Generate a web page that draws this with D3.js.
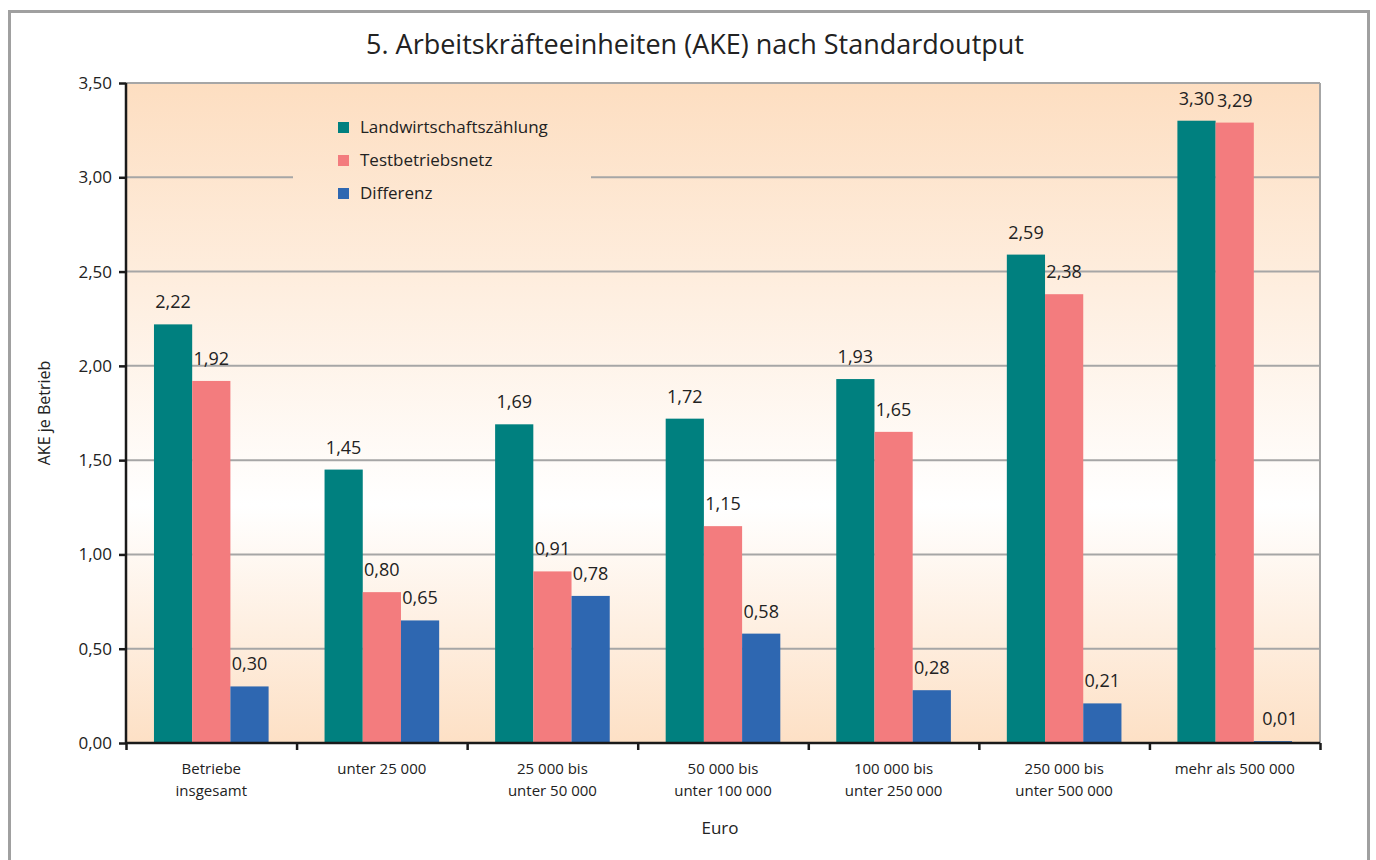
<!DOCTYPE html>
<html>
<head>
<meta charset="utf-8">
<script src="https://cdn.jsdelivr.net/npm/d3@7"></script>
<style>
  body { margin: 0; background: #fff; }
  text { font-family: "Open Sans", "Noto Sans", sans-serif; fill: #222; }
</style>
</head>
<body>
<script>
// Data
var categories = [
    ["Betriebe", "insgesamt"],
    ["unter 25 000"],
    ["25 000 bis", "unter 50 000"],
    ["50 000 bis", "unter 100 000"],
    ["100 000 bis", "unter 250 000"],
    ["250 000 bis", "unter 500 000"],
    ["mehr als 500 000"]
];
var seriesNames = ["Landwirtschaftszählung", "Testbetriebsnetz", "Differenz"];
var seriesColors = ["#00807f", "#f37c7e", "#2e67b1"];
var landwirtschaft = [2.22, 1.45, 1.69, 1.72, 1.93, 2.59, 3.30];
var testbetrieb = [1.92, 0.80, 0.91, 1.15, 1.65, 2.38, 3.29];
var differenz = [0.30, 0.65, 0.78, 0.58, 0.28, 0.21, 0.01];
var yTicks = [0, 0.5, 1, 1.5, 2, 2.5, 3, 3.5];

var series = [landwirtschaft, testbetrieb, differenz];

var W = 1376, H = 860;
var margin = {top: 83, right: 56, bottom: 117, left: 126},
    width = W - margin.left - margin.right,
    height = H - margin.top - margin.bottom;

var fmt = function(v) { return d3.format(".2f")(v).replace(".", ","); };

var svg = d3.select("body")
    .append("svg")
        .attr("width", W)
        .attr("height", H);

// outer frame
svg.append("path")
    .attr("d", "M9.5,870 V11.5 H1368.5 V870")
    .attr("fill", "none")
    .attr("stroke", "#a0a0a0")
    .attr("stroke-width", 3);

var defs = svg.append("defs");
// background gradient, one per coordinate frame (userSpaceOnUse)
function addGradient(id, y0) {
    var gr = defs.append("linearGradient")
        .attr("id", id)
        .attr("gradientUnits", "userSpaceOnUse")
        .attr("x1", 0).attr("y1", y0)
        .attr("x2", 0).attr("y2", y0 + height);
    gr.append("stop").attr("offset", "0%").attr("stop-color", "#fddec1");
    gr.append("stop").attr("offset", "64%").attr("stop-color", "#ffffff");
    gr.append("stop").attr("offset", "100%").attr("stop-color", "#fde0c5");
}
addGradient("bg", 0);

// title
svg.append("text")
    .attr("x", 695)
    .attr("y", 54)
    .attr("text-anchor", "middle")
    .style("font-size", "27px")
    .text("5. Arbeitskräfteeinheiten (AKE) nach Standardoutput");

var g = svg.append("g")
    .attr("transform", "translate(" + margin.left + "," + margin.top + ")");

// Scales
var x0 = d3.scaleBand()
    .domain(d3.range(categories.length))
    .range([0, width])
    .paddingInner(0.328)
    .paddingOuter(0.164);
var x1 = d3.scaleBand()
    .domain(d3.range(series.length))
    .range([0, x0.bandwidth()]);
var y = d3.scaleLinear()
    .domain([0, 3.5])
    .range([height, 0]);

// plot background
g.append("rect")
    .attr("x", 0).attr("y", 0)
    .attr("width", width).attr("height", height)
    .attr("fill", "url(#bg)");

// gridlines
g.selectAll(".grid")
    .data(yTicks.filter(function(d) { return d > 0; }))
  .enter().append("line")
    .attr("x1", 0).attr("x2", width)
    .attr("y1", function(d) { return y(d); })
    .attr("y2", function(d) { return y(d); })
    .attr("stroke", "#a6a6a6")
    .attr("stroke-width", 2);

// right border
g.append("line")
    .attr("x1", width).attr("x2", width)
    .attr("y1", 0).attr("y2", height)
    .attr("stroke", "#a6a6a6")
    .attr("stroke-width", 2);

// legend (opaque box hiding the gridline)
var legendY = 25;
addGradient("bgLegend", -legendY);
var legend = g.append("g").attr("transform", "translate(167," + legendY + ")");
legend.append("rect")
    .attr("x", 0).attr("y", 0)
    .attr("width", 298).attr("height", 110)
    .attr("fill", "url(#bgLegend)");

seriesNames.forEach(function(name, i) {
    var row = legend.append("g").attr("transform", "translate(45," + (14 + i * 33) + ")");
    row.append("rect")
        .attr("width", 11).attr("height", 11)
        .attr("fill", seriesColors[i]);
    row.append("text")
        .attr("x", 22).attr("y", 11)
        .style("font-size", "17px")
        .text(name);
});

// bars
var groups = g.selectAll(".cat")
    .data(categories.map(function(c, i) { return i; }))
  .enter().append("g")
    .attr("transform", function(d) { return "translate(" + x0(d) + ",0)"; });

series.forEach(function(vals, s) {
    groups.append("rect")
        .attr("x", x1(s))
        .attr("width", x1.bandwidth())
        .attr("y", function(d) { return y(vals[d]); })
        .attr("height", function(d) { return height - y(vals[d]); })
        .attr("fill", seriesColors[s]);
    groups.append("text")
        .attr("x", function(d) { return x1(s) + x1.bandwidth() / 2 + (vals[d] < 0.05 ? 7 : 0); })
        .attr("y", function(d) { return y(vals[d]) - 16; })
        .attr("text-anchor", "middle")
        .style("font-size", "18px")
        .text(function(d) { return fmt(vals[d]); });
});

// Y axis
var yAxis = d3.axisLeft(y)
    .tickValues(yTicks)
    .tickSize(7)
    .tickPadding(7)
    .tickFormat(fmt);
var ya = g.append("g").call(yAxis);
ya.select(".domain").attr("stroke", "#1a1a1a").attr("stroke-width", 2.5)
    .attr("d", "M0," + (height + 1) + "V0");
ya.selectAll(".tick line").attr("stroke", "#1a1a1a").attr("stroke-width", 2.5);
ya.selectAll(".tick text").style("font-size", "17px").attr("fill", "#333")
    .style("font-family", "'Open Sans', sans-serif");

// X axis with ticks at category boundaries
var xb = d3.scaleLinear().domain([0, categories.length]).range([0, width]);
var xAxis = d3.axisBottom(xb)
    .tickValues(d3.range(categories.length + 1))
    .tickSize(7)
    .tickFormat("");
var xa = g.append("g")
    .attr("transform", "translate(0," + height + ")")
    .call(xAxis);
xa.select(".domain").attr("stroke", "#1a1a1a").attr("stroke-width", 2.5)
    .attr("d", "M0,0H" + width);
xa.selectAll(".tick line").attr("stroke", "#1a1a1a").attr("stroke-width", 2.5);

// category labels
categories.forEach(function(lines, i) {
    var t = g.append("text")
        .attr("x", x0(i) + x0.bandwidth() / 2)
        .attr("y", height + 31)
        .attr("text-anchor", "middle")
        .style("font-size", "15px")
        .attr("fill", "#333");
    lines.forEach(function(l, j) {
        t.append("tspan")
            .attr("x", x0(i) + x0.bandwidth() / 2)
            .attr("dy", j === 0 ? 0 : 22)
            .text(l);
    });
});

// axis titles
svg.append("text")
    .attr("transform", "translate(50,413) rotate(-90)")
    .attr("text-anchor", "middle")
    .style("font-size", "16px")
    .attr("fill", "#333")
    .text("AKE je Betrieb");

svg.append("text")
    .attr("x", 720)
    .attr("y", 834)
    .attr("text-anchor", "middle")
    .style("font-size", "17px")
    .attr("fill", "#333")
    .text("Euro");
</script>
</body>
</html>
